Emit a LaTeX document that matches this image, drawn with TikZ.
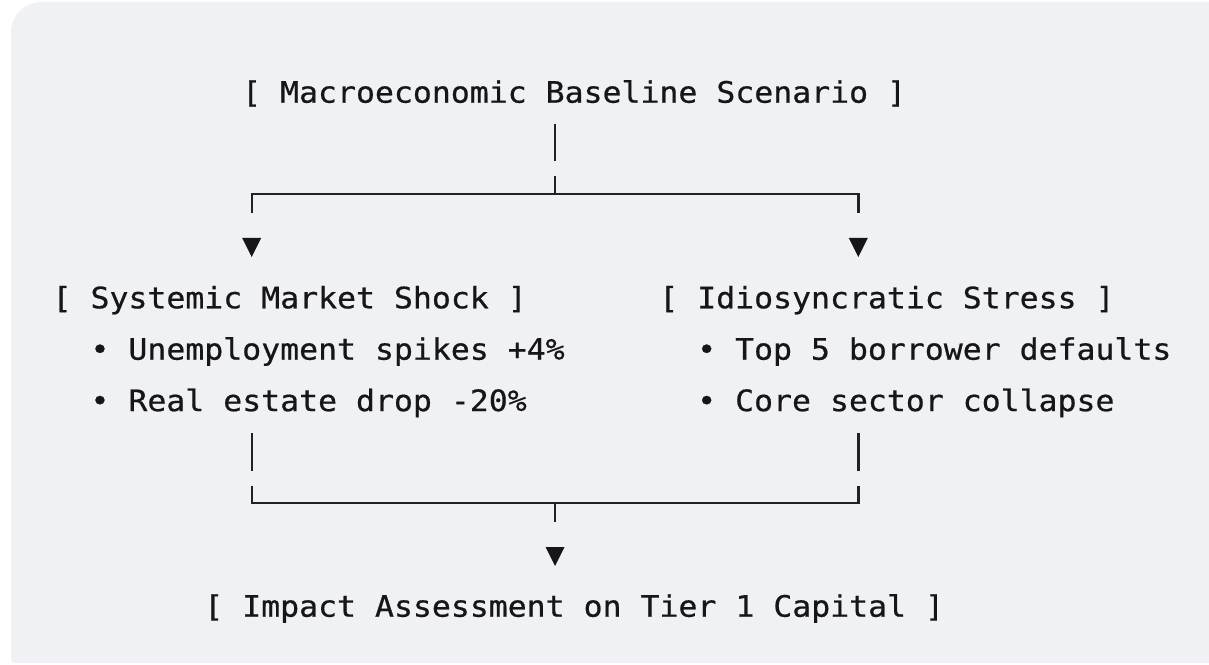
\documentclass[tikz,border=0pt]{standalone}
\usepackage{fontspec}
\usetikzlibrary{calc}
\newfontfamily\monoface[FakeStretch=1.068,FakeBold=0.6]{DejaVu Sans Mono}
\definecolor{bgc}{HTML}{F0F1F5}
\definecolor{ink}{HTML}{161616}
\definecolor{wire}{HTML}{222222}
\begin{document}
\begin{tikzpicture}[x=1pt,y=1pt,
  txt/.style={anchor=base west, inner sep=0pt, outer sep=0pt, text=ink,
    font=\monoface\fontsize{29.5}{35}\selectfont},
  conn/.style={draw=wire, line width=2.4pt, line join=miter},
  tri/.style={fill=ink}]
\useasboundingbox (0,0) rectangle (1209,664);
\fill[bgc] (1209,662) -- (41,662) arc[start angle=90,end angle=180,radius=30pt]
  -- (11,5) arc[start angle=180,end angle=270,radius=4pt] -- (1209,1) -- cycle;

% text nodes
\node[txt] (macro)  at (242.2,561.3) {[ Macroeconomic Baseline Scenario ]};
\node[txt] (sys)    at (52.6,355.7)  {[ Systemic Market Shock ]};
\node[txt] (sys1)   at (90.5,304.3)  {• Unemployment spikes +4\%};
\node[txt] (sys2)   at (90.5,252.9)  {• Real estate drop -20\%};
\node[txt] (idio)   at (659.3,355.7) {[ Idiosyncratic Stress ]};
\node[txt] (idio1)  at (697.2,304.3) {• Top 5 borrower defaults};
\node[txt] (idio2)  at (697.2,252.9) {• Core sector collapse};
\node[txt] (impact) at (204.3,47.3)  {[ Impact Assessment on Tier 1 Capital ]};

% junction coordinates
\coordinate (splitTop) at (555,470);
\coordinate (leftTop)  at (251.7,470);
\coordinate (rightTop) at (858.3,470);
\coordinate (mergeBot) at (555,160.7);
\coordinate (leftBot)  at (251.7,160.7);
\coordinate (rightBot) at (858.3,160.7);

% top split
\draw[conn] (splitTop |- 0,540) -- (splitTop |- 0,503.3);
\draw[conn] (splitTop |- 0,488.3) -- (splitTop);
\draw[conn] (leftTop |- 0,451.3) -- (leftTop) -- (rightTop) -- (rightTop |- 0,451.3);
\fill[tri] ($(leftTop |- 0,426)+(-9.5,0)$) -- ($(leftTop |- 0,426)+(9.5,0)$) -- (leftTop |- 0,407) -- cycle;
\fill[tri] ($(rightTop |- 0,426)+(-9.5,0)$) -- ($(rightTop |- 0,426)+(9.5,0)$) -- (rightTop |- 0,407) -- cycle;

% bottom merge
\draw[conn] (leftBot |- 0,230.7) -- (leftBot |- 0,193.3);
\draw[conn] (rightBot |- 0,230.7) -- (rightBot |- 0,193.3);
\draw[conn] (leftBot |- 0,178.3) -- (leftBot) -- (rightBot) -- (rightBot |- 0,178.3);
\draw[conn] (mergeBot) -- (mergeBot |- 0,142.3);
\fill[tri] ($(mergeBot |- 0,117)+(-9.5,0)$) -- ($(mergeBot |- 0,117)+(9.5,0)$) -- (mergeBot |- 0,98) -- cycle;
\end{tikzpicture}
\end{document}
